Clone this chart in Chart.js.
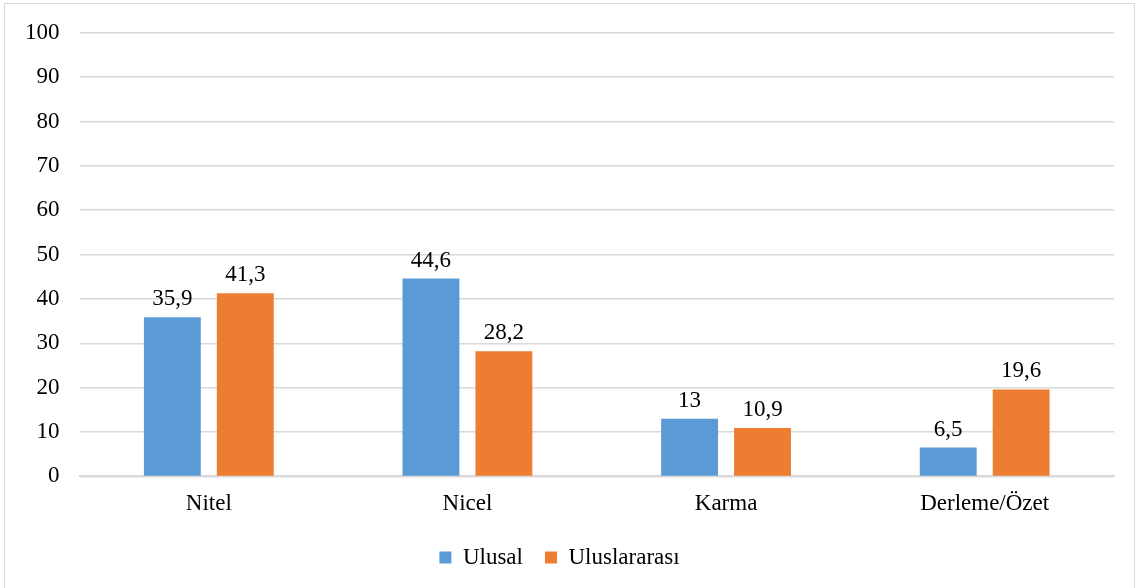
<!DOCTYPE html>
<html>
<head>
<meta charset="utf-8">
<script src="https://cdn.jsdelivr.net/npm/chart.js@4/dist/chart.umd.min.js"></script>
<style>
  html, body { margin: 0; padding: 0; background: #fff; overflow: hidden; }
  #box {
    position: absolute; left: 4px; top: 3px;
    width: 1131px; height: 600px;
    border: 1px solid #d9d9d9;
    box-sizing: border-box;
  }
  #wrap { position: absolute; left: 0; top: -5px; width: 1129px; height: 589px; }
</style>
</head>
<body>
<div id="box"><div id="wrap"><canvas id="chart"></canvas></div></div>
<script>
// ----------------------
// DATA
// ----------------------
const categories = ["Nitel", "Nicel", "Karma", "Derleme/Özet"];
const ulusal = [35.9, 44.6, 13, 6.5];
const uluslararasi = [41.3, 28.2, 10.9, 19.6];
const seriesNames = ["Ulusal", "Uluslararası"];

const FONT = "'Liberation Serif', 'Times New Roman', serif";
const FS = 23;

// value labels above bars, Excel style with comma decimals
const valueLabels = {
  id: 'valueLabels',
  afterDatasetsDraw(chart) {
    const ctx = chart.ctx;
    ctx.save();
    ctx.font = FS + "px " + FONT;
    ctx.fillStyle = "#000";
    ctx.textAlign = "center";
    ctx.textBaseline = "alphabetic";
    chart.data.datasets.forEach((ds, i) => {
      chart.getDatasetMeta(i).data.forEach((bar, j) => {
        const txt = String(ds.data[j]).replace('.', ',');
        ctx.fillText(txt, bar.x, bar.y - 12);
      });
    });
    ctx.restore();
  }
};

const ctx = document.getElementById('chart').getContext('2d');

new Chart(ctx, {
  type: 'bar',
  data: {
    labels: categories,
    datasets: [
      {
        label: seriesNames[0],
        data: ulusal,
        backgroundColor: '#5B9BD5',
        categoryPercentage: 0.564,
        barPercentage: 0.78
      },
      {
        label: seriesNames[1],
        data: uluslararasi,
        backgroundColor: '#ED7D31',
        categoryPercentage: 0.564,
        barPercentage: 0.78
      }
    ]
  },
  options: {
    responsive: true,
    maintainAspectRatio: false,
    animation: false,
    layout: { padding: { left: 0, right: 20, top: 7, bottom: 9 } },
    plugins: {
      tooltip: { enabled: false },
      legend: {
        position: 'bottom',
        labels: {
          font: { family: FONT, size: FS },
          color: '#000',
          boxWidth: 12,
          boxHeight: 12,
          padding: 22
        }
      }
    },
    scales: {
      x: {
        grid: { display: false },
        border: { color: '#d9d9d9', width: 2 },
        ticks: { font: { family: FONT, size: FS }, color: '#000', padding: 6 }
      },
      y: {
        min: 0,
        max: 100,
        ticks: { stepSize: 10, font: { family: FONT, size: FS }, color: '#000', padding: 20 },
        grid: { color: '#d9d9d9', lineWidth: 1.5, drawTicks: false },
        border: { display: false }
      }
    }
  },
  plugins: [valueLabels]
});
</script>
</body>
</html>
